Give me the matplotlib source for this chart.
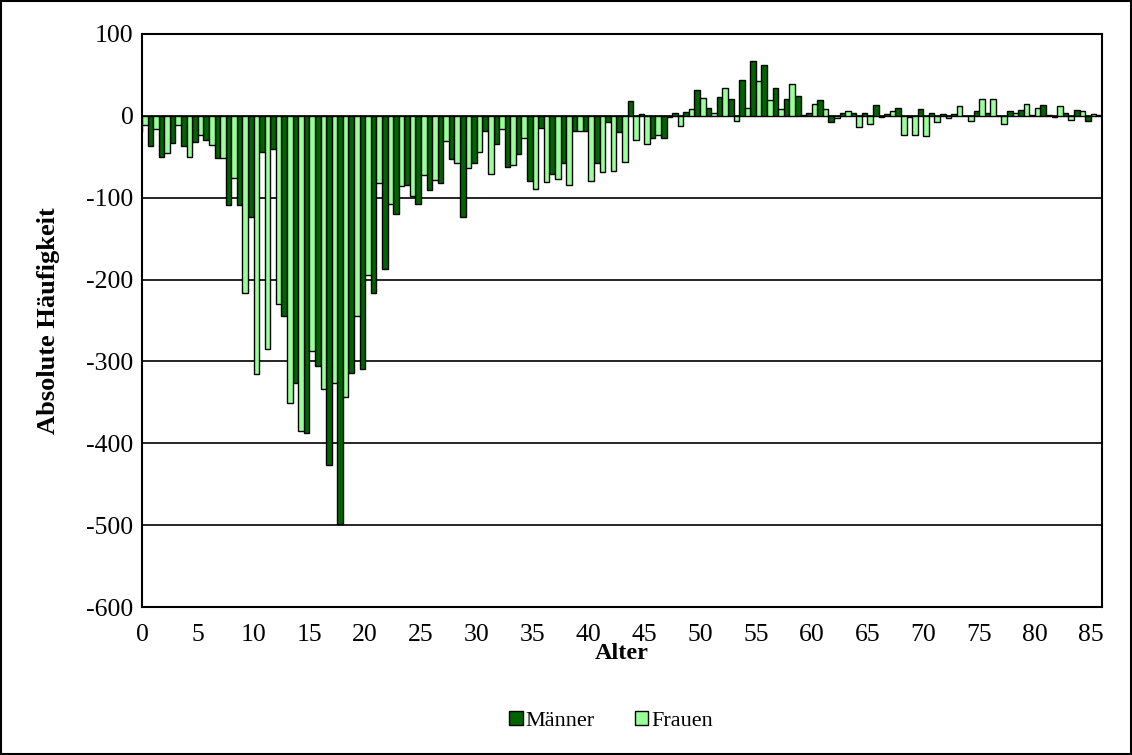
import matplotlib.pyplot as plt
from matplotlib.patches import Rectangle
import numpy as np

plt.rcParams['font.family'] = ['Liberation Serif', 'DejaVu Serif']
plt.rcParams['axes.unicode_minus'] = False

# age 0..86, values (Männer age 0 is hidden behind the axis)
alter = list(range(87))
maenner = [-20, -37, -50, -33, -37, -32, -29, -52, -109, -109,
           -124, -44, -41, -244, -326, -387, -306, -426, -499, -314,
           -309, -216, -187, -120, -84, -108, -90, -82, -53, -123,
           -57, -19, -34, -62, -47, -79, -15, -71, -57, -19,
           -18, -57, -7, -20, 18, 2, -27, -27, 3, 5,
           31, 10, 23, 20, 44, 67, 62, 34, 20, 24,
           3, 19, -7, 3, 3, 4, 13, 2, 10, -1,
           8, 3, 2, 2, 0, 6, 3, 0, 6, 7,
           1, 13, -1, 4, 7, -6, 1]
frauen = [-11, -16, -46, -11, -50, -24, -36, -51, -76, -216,
          -315, -285, -230, -351, -385, -287, -334, -326, -343, -245,
          -195, -82, -108, -86, -98, -72, -78, -31, -58, -64,
          -44, -71, -16, -60, -27, -89, -81, -77, -84, -19,
          -80, -68, -67, -56, -29, -34, -23, -1, -13, 8,
          22, 3, 34, -6, 10, 43, 19, 8, 39, 1,
          14, 8, -3, 6, -14, -10, -2, 6, -24, -24,
          -25, -7, -3, 12, -6, 21, 20, -10, 3, 15,
          9, 1, 12, -5, 6, 2, -5]

dunkel = "#006400"
hell = "#99FF99"

fig = plt.figure(figsize=(11.32, 7.55), dpi=100)
ax = fig.add_axes([0.1254, 0.196, 0.848, 0.759])

x = np.array(alter)
ax.bar(x - 0.5, maenner, width=0.5, align="edge", color=dunkel,
       edgecolor="black", linewidth=1, label="Männer")
ax.bar(x, frauen, width=0.5, align="edge", color=hell,
       edgecolor="black", linewidth=1, label="Frauen")

ax.set_xlim(0, 86)
ax.set_ylim(-600, 100)
ax.set_yticks(range(-600, 101, 100))
ax.set_xticks(range(0, 86, 5))
ax.grid(axis="y", color="black", linewidth=1.2)
ax.set_axisbelow(True)
ax.tick_params(length=0, labelsize=18.5)
ax.tick_params(axis="y", pad=6)
ax.tick_params(axis="x", pad=12)
for s in ax.spines.values():
    s.set_linewidth(1.5)

ax.set_xlabel("Alter", fontsize=17.5, fontweight="bold")
ax.xaxis.set_label_coords(0.5, -0.062)
ax.set_ylabel("Absolute Häufigkeit", fontsize=19, fontweight="bold")
ax.yaxis.set_label_coords(-0.085, 0.5)

fig.legend(loc="center", bbox_to_anchor=(0.54, 0.045), ncol=2, frameon=False,
           fontsize=16, handlelength=0.6, handleheight=0.6, handletextpad=0.15,
           columnspacing=1.8)

fig.patches.append(Rectangle((0.001, 0.001), 0.998, 0.998, transform=fig.transFigure,
                             fill=False, edgecolor="black", linewidth=1.5))

fig.savefig("out.png", dpi=100)
